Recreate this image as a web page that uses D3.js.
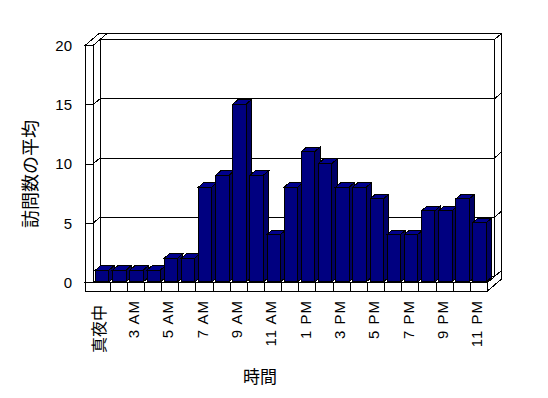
<!DOCTYPE html>
<html>
<head>
<meta charset="utf-8">
<script src="https://cdn.jsdelivr.net/npm/d3@7"></script>
<style>
  body { margin: 0; background: #fff; }
  svg { display: block; }
  text { fill: #000; }
</style>
</head>
<body>
<div id="container"></div>
<script>
/* CONSTANTS AND GLOBALS */
const width = 548;
const height = 398;

// data (one hour is missing in the source data)
const hours = ["真夜中", "1 AM", "3 AM", "4 AM", "5 AM", "6 AM", "7 AM", "8 AM", "9 AM", "10 AM", "11 AM", "12 PM",
  "1 PM", "2 PM", "3 PM", "4 PM", "5 PM", "6 PM", "7 PM", "8 PM", "9 PM", "10 PM", "11 PM"];
const visits = [1, 1, 1, 1, 2, 2, 8, 9, 15, 9, 4, 8, 11, 10, 8, 8, 7, 4, 4, 6, 6, 7, 5];
const yTicks = [0, 5, 10, 15, 20];
const shownHours = hours.filter((d, i) => i % 2 === 0);

// 3d look: how far one "depth unit" shifts things
const ox = 7, oy = 6;
const wallW = 8;      // thickness of the left wall seen from the front
const floorH = 8.5;   // thickness of the floor

/* SCALES */
const xScale = d3.scaleBand()
  .domain(hours)
  .range([93, 487.5])
  .paddingInner(0.22)
  .paddingOuter(0.11);

const yScale = d3.scaleLinear()
  .domain([0, 20])
  .range([282.5, 45.5]);

const x0 = xScale.range()[0], x1 = xScale.range()[1];
const yBase = yScale(0), yTop = yScale(20);

// project a point (x, y) at depth z
const P = (x, y, z) => [x + z * ox, y - z * oy];
const poly = pts => "M" + pts.map(p => p.join(",")).join("L") + "Z";

/* SVG */
const svg = d3.select("#container")
  .append("svg")
  .attr("width", width)
  .attr("height", height)
  .style("background-color", "#fff");

const frame = svg.append("g")
  .attr("fill", "#fff")
  .attr("stroke", "#000")
  .attr("stroke-width", 1)
  .style("shape-rendering", "crispEdges");

// back wall (depth 1..2)
frame.append("path").attr("d", poly([P(x0, yTop, 1), P(x1, yTop, 1), P(x1, yTop, 2), P(x0, yTop, 2)]));
frame.append("path").attr("d", poly([P(x1, yTop, 1), P(x1, yTop, 2), P(x1, yBase + floorH, 2), P(x1, yBase + floorH, 1)]));
frame.append("path").attr("d", poly([P(x0, yTop, 1), P(x1, yTop, 1), P(x1, yBase, 1), P(x0, yBase, 1)]));

// floor
frame.append("path").attr("d", poly([P(x0 - wallW, yBase, 0), P(x1, yBase, 0), P(x1, yBase, 1), P(x0 - wallW, yBase, 1)]));
frame.append("path").attr("d", poly([P(x1, yBase, 0), P(x1, yBase, 2), P(x1, yBase + floorH, 2), P(x1, yBase + floorH, 0)]));
frame.append("rect")
  .attr("x", x0 - wallW).attr("y", yBase)
  .attr("width", x1 - x0 + wallW).attr("height", floorH);

// left wall
frame.append("path").attr("d", poly([P(x0, yTop, 0), P(x0, yTop, 1), P(x0, yBase, 1), P(x0, yBase, 0)]));
frame.append("path").attr("d", poly([P(x0 - wallW, yTop, 0), P(x0, yTop, 0), P(x0, yTop, 2), P(x0 - wallW, yTop, 2)]));
frame.append("rect")
  .attr("x", x0 - wallW).attr("y", yTop)
  .attr("width", wallW).attr("height", yBase - yTop);

// gridlines running round the walls
const grid = frame.append("g").attr("fill", "none");
yTicks.filter(v => v > 0 && v < 20).forEach(v => {
  const y = yScale(v);
  grid.append("path").attr("d", "M" + [
    [x0 - wallW, y], P(x0, y, 0), P(x0, y, 1), P(x1, y, 1), P(x1, y, 2)
  ].map(p => p.join(",")).join("L"));
});

// category ticks on the front of the floor
frame.append("g").selectAll("line")
  .data(hours.slice(1))
  .join("line")
  .attr("x1", d => xScale(d) - xScale.step() * xScale.paddingInner() / 2)
  .attr("x2", d => xScale(d) - xScale.step() * xScale.paddingInner() / 2)
  .attr("y1", yBase)
  .attr("y2", yBase + floorH);

// BARS
const zf = 0.1, zb = 0.85;
const bars = svg.selectAll("g.bar")
  .data(hours.map((h, i) => ({ h, v: visits[i] })))
  .join("g")
  .attr("class", "bar")
  .attr("stroke", "#000")
  .attr("stroke-width", 1)
  .style("shape-rendering", "crispEdges");

bars.append("path")   // side
  .attr("fill", "#000066")
  .attr("d", d => {
    const xr = xScale(d.h) + xScale.bandwidth();
    return poly([P(xr, yScale(d.v), zf), P(xr, yScale(d.v), zb), P(xr, yBase, zb), P(xr, yBase, zf)]);
  });

bars.append("path")   // top
  .attr("fill", "#00008c")
  .attr("d", d => {
    const xl = xScale(d.h), xr = xl + xScale.bandwidth(), y = yScale(d.v);
    return poly([P(xl, y, zf), P(xr, y, zf), P(xr, y, zb), P(xl, y, zb)]);
  });

bars.append("path")   // front
  .attr("fill", "#000080")
  .attr("d", d => {
    const xl = xScale(d.h), xr = xl + xScale.bandwidth(), y = yScale(d.v);
    return poly([P(xl, y, zf), P(xr, y, zf), P(xr, yBase, zf), P(xl, yBase, zf)]);
  });

/* AXES */
const yAxisGroup = svg.append("g")
  .attr("transform", `translate(${x0 - wallW},0)`)
  .call(d3.axisLeft(yScale).tickValues(yTicks).tickSize(0).tickPadding(13));
yAxisGroup.select(".domain").remove();
yAxisGroup.selectAll("text")
  .attr("fill", "#000")
  .attr("font-family", "'Liberation Sans', Arial, sans-serif")
  .attr("font-size", 15);

const xAxisGroup = svg.append("g")
  .call(d3.axisBottom(xScale).tickValues(shownHours).tickSize(0));
xAxisGroup.select(".domain").remove();
xAxisGroup.selectAll("text")
  .attr("fill", "#000")
  .attr("font-family", d => d === "真夜中" ? "'Noto Sans CJK JP', sans-serif" : "'Liberation Sans', Arial, sans-serif")
  .attr("font-size", d => d === "真夜中" ? 16 : 15)
  .attr("letter-spacing", d => d === "真夜中" ? 0 : 1)
  .attr("text-anchor", "end")
  .attr("x", 0)
  .attr("y", 0)
  .attr("dy", "0.35em")
  .attr("transform", d => `translate(-2,${d === "真夜中" ? 305 : 300}) rotate(-90)`);

// axis titles
svg.append("text")
  .attr("transform", "translate(31,174) rotate(-90)")
  .attr("text-anchor", "middle")
  .attr("dy", "0.35em")
  .attr("fill", "#000")
  .attr("font-family", "'Noto Sans CJK JP', sans-serif")
  .attr("font-size", 18)
  .text("訪問数の平均");

svg.append("text")
  .attr("x", 260)
  .attr("y", 377)
  .attr("text-anchor", "middle")
  .attr("dy", "0.35em")
  .attr("fill", "#000")
  .attr("font-family", "'Noto Sans CJK JP', sans-serif")
  .attr("font-size", 17)
  .text("時間");
</script>
</body>
</html>
